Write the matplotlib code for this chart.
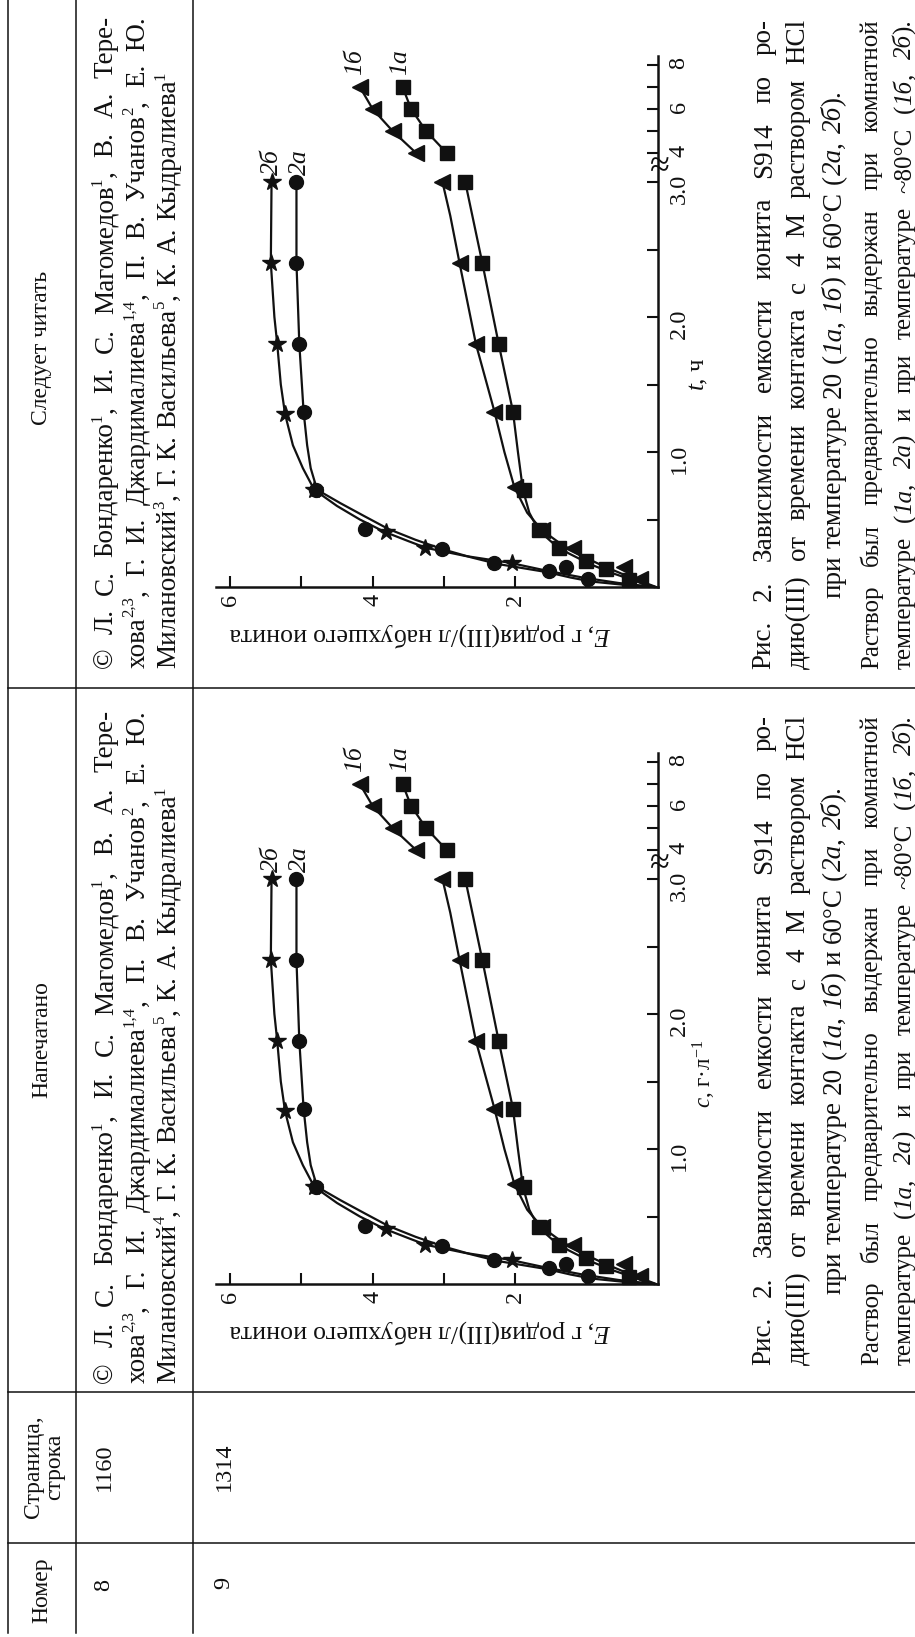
import re
import numpy as np
import matplotlib
matplotlib.use("Agg")
import matplotlib.pyplot as plt

plt.rcParams["font.family"] = ["Liberation Serif", "DejaVu Serif"]
plt.rcParams["mathtext.fontset"] = "custom"
plt.rcParams["mathtext.rm"] = "Liberation Serif"
plt.rcParams["mathtext.it"] = "Liberation Serif:italic"

W, H = 915, 1637
INK = "#111111"
PX = 100 / 72  # pixels per point at dpi 100

# ---- table text ----
HEAD = ["Номер", "Страница,\nстрока", "Напечатано", "Следует читать"]
ROW_NUM = ["8", "9"]
ROW_PAGE = ["1160", "1314"]

AUTH_OLD = ["© Л. С. Бондаренко^{1}, И. С. Магомедов^{1}, В. А. Тере-",
            "хова^{2,3}, Г. И. Джардималиева^{1,4}, П. В. Учанов^{2}, Е. Ю.",
            "Милановский^{4}, Г. К. Васильева^{5}, К. А. Кыдралиева^{1}"]
AUTH_NEW = ["© Л. С. Бондаренко^{1}, И. С. Магомедов^{1}, В. А. Тере-",
            "хова^{2,3}, Г. И. Джардималиева^{1,4}, П. В. Учанов^{2}, Е. Ю.",
            "Милановский^{3}, Г. К. Васильева^{5}, К. А. Кыдралиева^{1}"]

CAPTION = ["Рис. 2. Зависимости емкости ионита S914 по ро-",
           "дию(III) от времени контакта с 4 М раствором HCl",
           "при температуре 20 (*1а*, *1б*) и 60°C (*2а*, *2б*).",
           "Раствор был предварительно выдержан при комнатной",
           "температуре (*1а*, *2а*) и при температуре ~80°C (*1б*, *2б*)."]

X_LABEL_OLD = r"$c$, г·л$^{-1}$"
X_LABEL_NEW = r"$t$, ч"
Y_LABEL = r"$E$, г родия(III)/л набухшего ионита"

# ---- chart data: E (g/l) against t ----
# 1а, squares
t_1a = [7, 6, 5, 4, 3.0, 2.4, 1.8, 1.3, 0.72, 0.42, 0.29, 0.19, 0.13, 0.05]
E_1a = [3.58, 3.46, 3.25, 2.96, 2.70, 2.46, 2.23, 2.03, 1.88, 1.67, 1.39, 1.00, 0.72, 0.40]
curve_t_1a = [3.0, 2.75, 2.4, 1.8, 1.3, 1.0, 0.72, 0.55, 0.42, 0.33, 0.25, 0.17, 0.1, 0.04, 0.0]
curve_E_1a = [2.70, 2.60, 2.46, 2.23, 2.03, 1.96, 1.89, 1.80, 1.67, 1.48, 1.25, 0.95, 0.62, 0.28, 0.03]

# 1б, triangles
t_1b = [7, 6, 5, 4, 3.0, 2.4, 1.8, 1.3, 0.74, 0.42, 0.29, 0.15, 0.06]
E_1b = [4.18, 4.00, 3.72, 3.39, 3.02, 2.78, 2.55, 2.29, 2.00, 1.62, 1.19, 0.47, 0.25]
curve_t_1b = [3.05, 3.0, 2.75, 2.4, 1.8, 1.3, 1.0, 0.74, 0.55, 0.42, 0.32, 0.24, 0.16, 0.08, 0.02, 0.0]
curve_E_1b = [3.06, 3.02, 2.91, 2.78, 2.55, 2.29, 2.15, 2.01, 1.83, 1.62, 1.36, 1.10, 0.78, 0.42, 0.12, 0.02]

# 2а, circles
t_2a = [3.0, 2.4, 1.8, 1.3, 0.72, 0.43, 0.28, 0.18, 0.15, 0.12, 0.06]
E_2a = [5.07, 5.07, 5.03, 4.97, 4.80, 4.11, 3.03, 2.29, 1.29, 1.53, 0.97]
curve_t_2a = [3.0, 2.4, 1.8, 1.3, 1.05, 0.88, 0.72, 0.62, 0.52, 0.43, 0.35, 0.28, 0.22, 0.17,
              0.11, 0.07, 0.04, 0.015, 0.0]
curve_E_2a = [5.07, 5.07, 5.03, 4.97, 4.92, 4.87, 4.78, 4.45, 4.10, 3.78, 3.40, 3.02, 2.62, 2.24,
              1.55, 1.22, 0.92, 0.45, 0.05]

# 2б, stars
t_2b = [3.0, 2.4, 1.8, 1.28, 0.72, 0.41, 0.29, 0.18]
E_2b = [5.42, 5.43, 5.34, 5.23, 4.83, 3.81, 3.26, 2.04]
curve_t_2b = [3.0, 2.4, 2.0, 1.8, 1.5, 1.28, 1.05, 0.88, 0.72, 0.6, 0.5, 0.41, 0.34, 0.29,
              0.23, 0.18, 0.12, 0.07, 0.03, 0.0]
curve_E_2b = [5.42, 5.43, 5.38, 5.34, 5.29, 5.23, 5.12, 4.98, 4.82, 4.50, 4.18, 3.84, 3.50, 3.25,
              2.70, 2.08, 1.55, 1.05, 0.55, 0.05]

T_MAJOR = [1, 2, 3, 4, 6, 8]
T_LABELS = ["1.0", "2.0", "3.0", "4", "6", "8"]
T_MINOR = [0.5, 1.5, 2.5, 5, 7]

# broken time axis: 0-3 linear, then compressed 4-8
T_KN = [-10, 0, 3, 4, 8, 60]
S_KN = [-10, 0, 3, 3 + 29 / 135, 3 + 117 / 135, 3 + 117 / 135 + 52 * 22 / 135]


def fwd(t):
    return np.interp(t, T_KN, S_KN)


def inv(s):
    return np.interp(s, S_KN, T_KN)


fig = plt.figure(figsize=(W / 100, H / 100), dpi=100)
bg = fig.add_axes([0, 0, 1, 1])
bg.set_xlim(0, W)
bg.set_ylim(H, 0)
bg.axis("off")
R = fig.canvas.get_renderer()


def parse(word):
    segs = []
    for part in re.split(r"(\^\{[^}]*\}|\*[^*]*\*)", word):
        if not part:
            continue
        if part.startswith("^{"):
            segs.append((part[2:-1], "sup"))
        elif part.startswith("*"):
            segs.append((part[1:-1], "it"))
        else:
            segs.append((part, "rm"))
    return segs


def seg_w(s, size, style):
    t = bg.text(0, 0, s, fontsize=size, fontstyle="italic" if style == "it" else "normal")
    w = t.get_window_extent(R).width
    t.remove()
    return w


def word_widths(text, size):
    words = [parse(w) for w in text.split()]
    ws = [sum(seg_w(s, size * 0.62 if st == "sup" else size, st) for s, st in wd) for wd in words]
    return words, ws


def fit_size(lines, span, base=16.0, space=0.27):
    # largest size at which every line fits the span with ordinary word spaces
    best = 99
    for ln in lines:
        words, ws = word_widths(ln, base)
        nat = sum(ws) + space * base * PX * (len(ws) - 1)
        best = min(best, base * span / nat)
    return best


def put_line(text, xc, y0, y1, size, how="justify"):
    # text runs upward, from y0 (bottom) to y1 (top)
    em = size * PX
    sup = size * 0.62
    words, ws = word_widths(text, size)
    n = len(words)
    if how == "justify" and n > 1:
        gap = ((y0 - y1) - sum(ws)) / (n - 1)
        y = y0
    else:
        gap = 0.27 * em
        total = sum(ws) + gap * (n - 1)
        y = y0 if how == "left" else (y0 + y1) / 2 + total / 2
    xb = xc + 0.32 * em
    for wd in words:
        for s, st in wd:
            fs = sup if st == "sup" else size
            xx = xb - 0.42 * em if st == "sup" else xb
            bg.text(xx, y, s, fontsize=fs, fontstyle="italic" if st == "it" else "normal",
                    rotation=90, rotation_mode="anchor", ha="left", va="baseline", color=INK)
            y -= seg_w(s, fs, st)
        y -= gap


# ---- table grid ----
for x in (8, 76, 193):
    bg.plot([x, x], [0, 1633], color=INK, lw=1.1)
for y in (688, 1392, 1543):
    bg.plot([8, W], [y, y], color=INK, lw=1.1)

hkw = dict(rotation=90, ha="center", va="center", fontsize=17, color=INK, linespacing=1.0)
bg.text(42, 1590, HEAD[0], **hkw)
bg.text(44, 1467, HEAD[1], multialignment="center", **hkw)
bg.text(42, 1040, HEAD[2], **hkw)
bg.text(42, 348, HEAD[3], **hkw)

ckw = dict(rotation=90, ha="center", va="center", fontsize=17.5, color=INK)
bg.text(104, 1585, ROW_NUM[0], **ckw)
bg.text(224, 1583, ROW_NUM[1], **ckw)
bg.text(104, 1467, ROW_PAGE[0], **ckw)
bg.text(224, 1467, ROW_PAGE[1], **ckw)

# author lines, row 8
a_size = min(fit_size(AUTH_NEW[:2], 652), 19.5)
for i, x in enumerate((104, 136, 167)):
    how = "justify" if i < 2 else "left"
    put_line(AUTH_OLD[i], x, 1383, 710, a_size, how)
    put_line(AUTH_NEW[i], x, 668, 16, a_size, how)

# captions, row 9
c_size = min(fit_size(CAPTION[:2], 650), 19.5)
n_size = min(fit_size(CAPTION[3:], 650), 18)
cap_x = [762, 796, 832, 870, 903]
cap_size = [c_size, c_size, c_size, n_size, n_size]
cap_how = ["justify", "justify", "center", "justify", "justify"]
for (y0, y1) in ((1365, 715), (669, 19)):
    for i in range(5):
        put_line(CAPTION[i], cap_x[i], y0, y1, cap_size[i], cap_how[i])


def chart(ybase, xlabel, xlab_x, xlab_y, xlab_size):
    ax = fig.add_axes([216 / W, 1 - ybase / H, 441.5 / W, 531 / H])
    ax.set_yscale("function", functions=(fwd, inv))
    ax.set_xlim(6.2, 0)
    ax.set_ylim(0, inv(531 / 135))
    ax.patch.set_alpha(0)
    for sp in ("left", "top"):
        ax.spines[sp].set_visible(False)
    for sp in ("right", "bottom"):
        ax.spines[sp].set_linewidth(1.8)
        ax.spines[sp].set_color(INK)
    ax.yaxis.tick_right()
    ax.set_xticks([2, 4, 6])
    ax.set_xticklabels(["2", "4", "6"])
    ax.set_xticks([1, 3, 5], minor=True)
    ax.set_yticks(T_MAJOR)
    ax.set_yticklabels(T_LABELS)
    ax.set_yticks(T_MINOR, minor=True)
    ax.tick_params(which="both", direction="in", length=8, width=1.5, color=INK,
                   labelsize=17.5, labelcolor=INK, labelrotation=90)
    ax.tick_params(axis="x", which="both", pad=5)
    ax.tick_params(axis="y", which="both", pad=8)

    lk = dict(color=INK, lw=1.6, clip_on=False, zorder=2)
    ax.plot(curve_E_1a, curve_t_1a, **lk)
    ax.plot(E_1a[:4], t_1a[:4], **lk)
    ax.plot(curve_E_1b, curve_t_1b, **lk)
    ax.plot(E_1b[:4], t_1b[:4], **lk)
    ax.plot(curve_E_2a, curve_t_2a, **lk)
    ax.plot(curve_E_2b, curve_t_2b, **lk)

    mk = dict(ls="none", color=INK, mec=INK, clip_on=False, zorder=3)
    ax.plot(E_1a, t_1a, marker="s", ms=9.5, **mk)
    ax.plot(E_1b, t_1b, marker="<", ms=11.5, **mk)
    ax.plot(E_2a, t_2a, marker="o", ms=10, **mk)
    ax.plot(E_2b, t_2b, marker="*", ms=13, **mk)

    tk = dict(rotation=90, ha="center", va="center", fontsize=18.5, fontstyle="italic", color=INK)
    ax.text(5.41, 3.7, "2б", **tk)
    ax.text(5.02, 3.7, "2а", **tk)
    ax.text(4.25, 8.15, "1б", **tk)
    ax.text(3.62, 8.15, "1а", **tk)

    # axis break and axis titles
    bg.text(660, ybase - 419, "≈", fontsize=26, ha="center", va="center", color=INK)
    bg.text(xlab_x, xlab_y, xlabel, rotation=90, ha="center", va="center",
            fontsize=xlab_size, color=INK)
    bg.text(420, ybase + 48, Y_LABEL, rotation=180, ha="center", va="center",
            fontsize=18.5, color=INK)


chart(1284, X_LABEL_OLD, 704, 1074, 16.5)
chart(587, X_LABEL_NEW, 699, 374, 18)

fig.savefig("out.png", dpi=100)
